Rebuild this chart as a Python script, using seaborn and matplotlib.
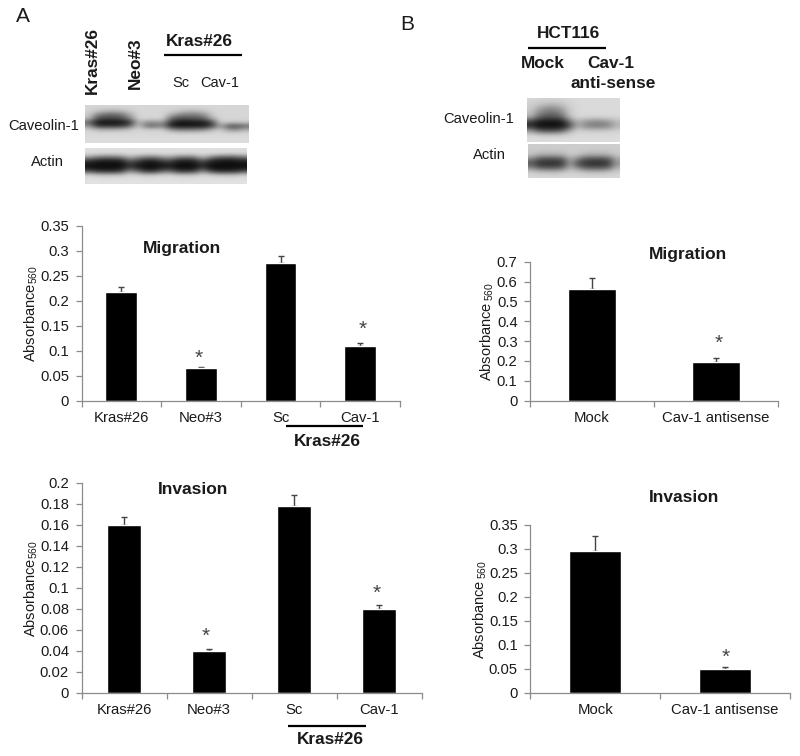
import numpy as np
import matplotlib
matplotlib.use("Agg")
import matplotlib.pyplot as plt
from matplotlib.lines import Line2D
import seaborn as sns

sns.set_theme(style="white")
plt.rcParams['font.family'] = ['Liberation Sans', 'DejaVu Sans']
plt.rcParams['mathtext.fontset'] = 'custom'
plt.rcParams['mathtext.rm'] = 'Liberation Sans'
plt.rcParams['mathtext.it'] = 'Liberation Sans:italic'
plt.rcParams['mathtext.bf'] = 'Liberation Sans:bold'

W, H = 800, 756
DARK = '#1a1a1a'
GRAY = '#8c8c8c'

# ---------- data ----------
labels_a = ['Kras#26', 'Neo#3', 'Sc', 'Cav-1']
labels_b = ['Mock', 'Cav-1 antisense']

mig_a = [0.217, 0.065, 0.275, 0.110]
mig_a_err = [0.010, 0.003, 0.014, 0.005]
inv_a = [0.160, 0.040, 0.178, 0.080]
inv_a_err = [0.007, 0.002, 0.010, 0.004]
mig_b = [0.565, 0.197]
mig_b_err = [0.055, 0.018]
inv_b = [0.296, 0.050]
inv_b_err = [0.030, 0.004]

yt_mig_a = ['0', '0.05', '0.1', '0.15', '0.2', '0.25', '0.3', '0.35']
yt_inv_a = ['0', '0.02', '0.04', '0.06', '0.08', '0.1', '0.12', '0.14', '0.16', '0.18', '0.2']
yt_mig_b = ['0', '0.1', '0.2', '0.3', '0.4', '0.5', '0.6', '0.7']
yt_inv_b = ['0', '0.05', '0.1', '0.15', '0.2', '0.25', '0.3', '0.35']

# Western blot intensities, read by eye (0 black, 255 white)
blot_a_cav = [
    [214,214,214,214,214,214,214,214,214,214,214,214,214,214,214,214,214,214,214,214],
    [212,200,185,180,188,204,214,214,214,214,210,198,188,188,198,212,214,214,214,214],
    [205,135,110,105,118,170,214,214,214,214,175,140,125,125,145,200,214,214,214,214],
    [190, 85, 70, 70, 85,135,212,214,214,214,110, 80, 85, 90,100,175,214,214,214,214],
    [105, 22, 18, 18, 22, 45,190,150,145,160, 50, 20, 22, 25, 30, 70,208,200,195,205],
    [150, 55, 50, 50, 58,100,200,110,105,130, 28, 18, 20, 22, 25, 60,170, 85, 80,105],
    [210,185,180,180,185,200,214,205,205,208,150,125,125,130,140,180,205,150,145,175],
    [216,216,216,216,216,216,216,216,216,216,214,212,212,212,214,216,216,214,214,216],
    [218,218,218,218,218,218,218,218,218,218,218,218,218,218,218,218,218,218,218,218],
    [220,220,220,220,220,220,220,220,220,220,220,220,220,220,220,220,220,220,220,220],
]
blot_a_act = [
    [222,222,222,222,222,222,222,222,222,222,222,222,222,222,222,222,222,222,222,222],
    [218,215,212,212,215,218,218,215,215,218,218,215,215,215,218,218,212,210,210,212],
    [160,130,120,120,130,180,150,130,125,150,165,130,125,130,185,140,105,100,100,125],
    [ 60, 35, 30, 30, 40,100, 75, 38, 35, 65, 80, 38, 35, 40, 95, 45, 28, 25, 25, 40],
    [ 22, 15, 14, 14, 16, 55, 30, 15, 15, 26, 34, 15, 14, 16, 50, 18, 14, 14, 14, 18],
    [ 25, 15, 14, 14, 18, 70, 38, 16, 16, 30, 42, 16, 15, 18, 62, 18, 14, 14, 14, 20],
    [ 90, 60, 55, 55, 70,150,110, 65, 60,105,115, 65, 60, 70,145, 80, 50, 50, 55, 85],
    [210,195,190,190,195,214,208,195,195,208,210,195,195,195,214,205,190,190,190,205],
    [222,222,222,222,222,222,222,222,222,222,222,222,222,222,222,222,222,222,222,222],
    [225,225,225,225,225,225,225,225,225,225,225,225,225,225,225,225,225,225,225,225],
]
blot_b_cav = [
    [215,212,210,210,212,215,218,218,218,218,218,218],
    [208,200,190,188,195,210,216,218,218,218,218,218],
    [205,170,145,142,165,205,216,218,218,218,218,218],
    [195,140,115,112,135,200,216,218,218,218,218,218],
    [170,100, 80, 80, 95,185,214,212,210,210,212,214],
    [ 60, 24, 18, 18, 24,105,180,150,135,135,150,185],
    [ 45, 18, 15, 15, 18, 70,175,140,125,125,135,180],
    [155, 90, 80, 80, 95,170,210,205,202,202,205,210],
    [215,210,205,205,208,214,218,218,218,218,218,218],
    [220,220,220,220,220,220,220,220,220,220,220,220],
]
blot_b_act = [
    [205,205,205,205,205,205,205,205,205,205,205,205],
    [200,200,200,200,200,205,205,200,200,200,200,205],
    [195,175,170,170,178,200,195,175,170,170,178,198],
    [135, 85, 80, 80, 90,175,130, 85, 80, 80, 90,170],
    [ 85, 50, 45, 45, 55,160, 80, 50, 45, 45, 55,150],
    [130, 85, 80, 80, 95,180,125, 85, 80, 80, 95,175],
    [200,185,180,180,188,205,200,185,180,180,188,205],
    [215,215,215,215,215,215,215,215,215,215,215,215],
]


# ---------- helpers ----------
def px_axes(left, top, right, bottom):
    return fig.add_axes([left / W, 1 - bottom / H, (right - left) / W, (bottom - top) / H])


def px_text(x, y, s, size=10, weight='normal', color=DARK, rotation=0):
    fig.text(x / W, 1 - y / H, s, ha='center', va='center', fontsize=size,
             fontweight=weight, color=color, rotation=rotation)


def px_line(x0, x1, y, lw=1.6):
    fig.add_artist(Line2D([x0 / W, x1 / W], [1 - y / H, 1 - y / H], color='black',
                          lw=lw, solid_capstyle='butt'))


def blot(left, top, right, bottom, grid):
    ax = px_axes(left, top, right, bottom)
    ax.imshow(np.array(grid, dtype=float), cmap='gray', vmin=0, vmax=255,
              aspect='auto', interpolation='bicubic')
    ax.axis('off')


def bars(box, labels, values, errs, yticks, ymax, width, ylab_x, ylab_y, ylabel):
    left, top, right, bottom = box
    ax = px_axes(left, top, right, bottom)
    n = len(labels)
    ax.errorbar(range(n), values, yerr=[[0] * n, errs], fmt='none', ecolor='#444444',
                elinewidth=1, capsize=2.4, capthick=1, zorder=1)
    sns.barplot(x=labels, y=values, color='black', saturation=1, width=width, ax=ax, zorder=2)
    ax.set_xlim(-0.5, n - 0.5)
    ax.set_ylim(0, ymax)
    ax.set_xticks(np.arange(n + 1) - 0.5)
    ax.set_xticklabels([])
    ax.set_xticks(range(n), labels, minor=True)
    ax.set_yticks([float(t) for t in yticks], yticks)
    ax.tick_params(axis='x', which='major', length=4, width=0.9, color=GRAY, direction='out', bottom=True)
    ax.tick_params(axis='x', which='minor', length=0, pad=7.5, labelsize=10.7, labelcolor=DARK)
    ax.tick_params(axis='y', which='major', length=4, width=0.9, color=GRAY, direction='out', left=True,
                   labelsize=10.6, labelcolor=DARK, pad=5)
    for s in ('top', 'right'):
        ax.spines[s].set_visible(False)
    for s in ('left', 'bottom'):
        ax.spines[s].set_color(GRAY)
        ax.spines[s].set_linewidth(0.9)
    ax.set_ylabel(ylabel, fontsize=10.5, color=DARK, labelpad=0)
    ax.yaxis.set_label_coords((ylab_x - left) / (right - left), (bottom - ylab_y) / (bottom - top))
    ax.yaxis.label.set_verticalalignment('center')
    return ax


fig = plt.figure(figsize=(W / 100, H / 100), dpi=100, facecolor='white')

# ---------- blots ----------
blot(85, 105, 249, 143, blot_a_cav)
blot(85, 148, 247, 184, blot_a_act)
blot(527, 98, 620, 142, blot_b_cav)
blot(528, 144, 620, 178, blot_b_act)

# ---------- bar panels ----------
lab_tight = r'Absorbance$_{\mathit{560}}$'
lab_space = r'Absorbance$\,_{\mathit{560}}$'
bars((81.5, 225.7, 400, 400.5), labels_a, mig_a, mig_a_err, yt_mig_a, 0.35, 0.40, 31, 314, lab_tight)
bars((81.5, 482.7, 421.7, 692.7), labels_a, inv_a, inv_a_err, yt_inv_a, 0.2, 0.40, 31, 589, lab_tight)
bars((530, 261.7, 777.7, 400.7), labels_b, mig_b, mig_b_err, yt_mig_b, 0.7, 0.39, 487, 332, lab_space)
bars((530.3, 525, 790, 692.7), labels_b, inv_b, inv_b_err, yt_inv_b, 0.35, 0.40, 480, 610, lab_space)

# ---------- annotations ----------
px_text(23, 16, 'A', size=15)
px_text(407, 24, 'B', size=15)

px_text(92, 60, 'Kras#26', size=12.4, weight='bold', rotation=90)
px_text(135, 63, 'Neo#3', size=12.4, weight='bold', rotation=90)
px_text(199, 41, 'Kras#26', size=12.4, weight='bold')
px_line(164, 242, 55)
px_text(181, 83, 'Sc', size=10.5)
px_text(220, 83, 'Cav-1', size=10.5)
px_text(44, 126, 'Caveolin-1', size=10.6)
px_text(47, 162, 'Actin', size=10.6)

px_text(568, 34, 'HCT116', size=12.4, weight='bold')
px_line(528, 606, 48)
px_text(543, 63, 'Mock', size=12.4, weight='bold')
px_text(611, 63, 'Cav-1', size=12.4, weight='bold')
px_text(613, 83, 'anti-sense', size=12.4, weight='bold')
px_text(479, 119, 'Caveolin-1', size=10.6)
px_text(489, 155, 'Actin', size=10.6)

px_text(182, 248, 'Migration', size=12.5, weight='bold')
px_text(193, 490, 'Invasion', size=12.5, weight='bold')
px_text(688, 255, 'Migration', size=12.5, weight='bold')
px_text(684, 498, 'Invasion', size=12.5, weight='bold')

px_line(286, 363, 426)
px_text(327, 441, 'Kras#26', size=12.4, weight='bold')
px_line(288, 366, 725.5)
px_text(330, 740, 'Kras#26', size=12.4, weight='bold')

star_color = '#444444'
for x, y in [(199, 358), (363, 329), (206, 636), (377, 593), (719, 343), (726, 657)]:
    px_text(x, y, '*', size=15, color=star_color)

fig.savefig('out.png', dpi=100, facecolor='white')
